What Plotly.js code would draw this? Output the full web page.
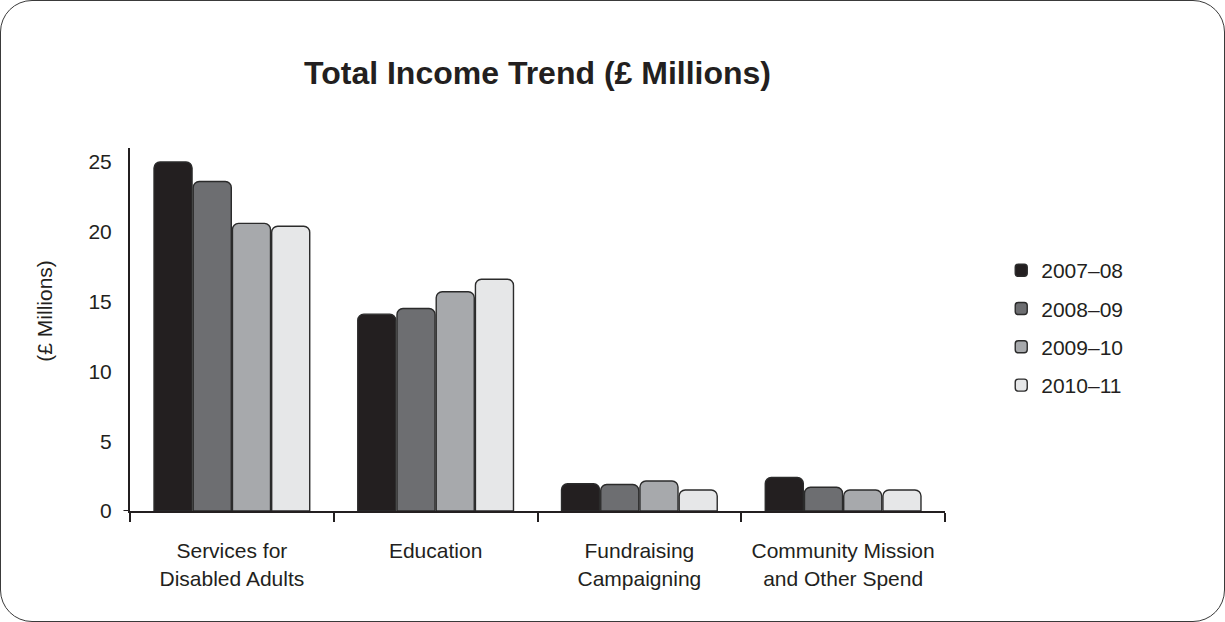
<!DOCTYPE html>
<html>
<head>
<meta charset="utf-8">
<script src="https://cdn.plot.ly/plotly-3.0.1.min.js"></script>
<style>
  html, body { margin: 0; padding: 0; background: #fff; }
  #frame { position: absolute; left: 0; top: 0; width: 1225px; height: 622px; box-sizing: border-box;
           border: 1.6px solid #3a3a3a; border-radius: 32px; overflow: hidden; background: #fff; }
  #chart { position: absolute; left: -1.6px; top: -1.6px; width: 1225px; height: 622px; }
</style>
</head>
<body>
<div id="frame"><div id="chart"></div></div>
<script>
const categories = ["Services for<br>Disabled Adults", "Education", "Fundraising<br>Campaigning", "Community Mission<br>and Other Spend"];
const seriesNames = ["2007\u201308", "2008\u201309", "2009\u201310", "2010\u201311"];
const v2007_08 = [25.0, 14.1, 1.95, 2.4];
const v2008_09 = [23.6, 14.5, 1.9, 1.7];
const v2009_10 = [20.6, 15.7, 2.15, 1.5];
const v2010_11 = [20.4, 16.6, 1.5, 1.5];
const seriesValues = [v2007_08, v2008_09, v2009_10, v2010_11];
const colors = ["#231f20", "#6d6e71", "#a7a9ac", "#e6e7e8"];
const yTicks = [0, 5, 10, 15, 20, 25];
const yTitle = "(\u00a3 Millions)";

const font = "Liberation Sans, Arial, Helvetica, sans-serif";

const traces = seriesValues.map((vals, i) => ({
  type: "bar",
  name: seriesNames[i],
  x: categories,
  y: vals,
  legendgroup: "g" + i,
  marker: { color: colors[i], line: { color: "#2b2b2b", width: 1.4 }, cornerradius: 6 },
  hoverinfo: "x+y+name"
}));

const layout = {
  width: 1225, height: 622,
  margin: { l: 131, r: 279, t: 149, b: 110 },
  paper_bgcolor: "rgba(0,0,0,0)",
  plot_bgcolor: "rgba(0,0,0,0)",
  font: { family: font, size: 21, color: "#231f20" },
  title: {
    text: "<b>Total Income Trend (\u00a3 Millions)</b>",
    font: { family: font, size: 32, color: "#231f20" },
    xref: "paper", x: 0.5, xanchor: "center",
    yref: "container", y: 0.882, yanchor: "middle"
  },
  barmode: "group",
  bargap: 0.23,
  bargroupgap: 0.03,
  xaxis: {
    type: "category",
    showline: true, linecolor: "#231f20", linewidth: 2,
    ticks: "outside", tickson: "boundaries", ticklen: 9, tickwidth: 2, tickcolor: "#231f20",
    tickfont: { family: font, size: 21, color: "#231f20" },
    ticklabelstandoff: 20,
    showgrid: false, zeroline: false, fixedrange: true
  },
  yaxis: {
    range: [0, 26],
    tickvals: yTicks,
    showline: true, linecolor: "#231f20", linewidth: 2,
    ticks: "", ticklabelstandoff: 12,
    tickfont: { family: font, size: 21, color: "#231f20" },
    showgrid: false, zeroline: false, fixedrange: true
  },
  annotations: [
    { text: yTitle, textangle: -90, showarrow: false,
      xref: "paper", x: -0.105, xanchor: "center",
      yref: "paper", y: 0.553, yanchor: "middle",
      font: { family: font, size: 21, color: "#231f20" } }
  ],
  showlegend: true,
  legend: {
    x: 1.069, xanchor: "left", y: 0.504, yanchor: "middle",
    font: { family: font, size: 21, color: "#231f20" },
    tracegroupgap: 8, traceorder: "grouped",
    bgcolor: "rgba(0,0,0,0)"
  },
  shapes: [
    { type: "line", xref: "paper", yref: "y", x0: -0.008, x1: 0, y0: 0, y1: 0,
      line: { color: "#231f20", width: 2 } }
  ]
};

Plotly.newPlot("chart", traces, layout, { displayModeBar: false, staticPlot: true });
</script>
</body>
</html>
